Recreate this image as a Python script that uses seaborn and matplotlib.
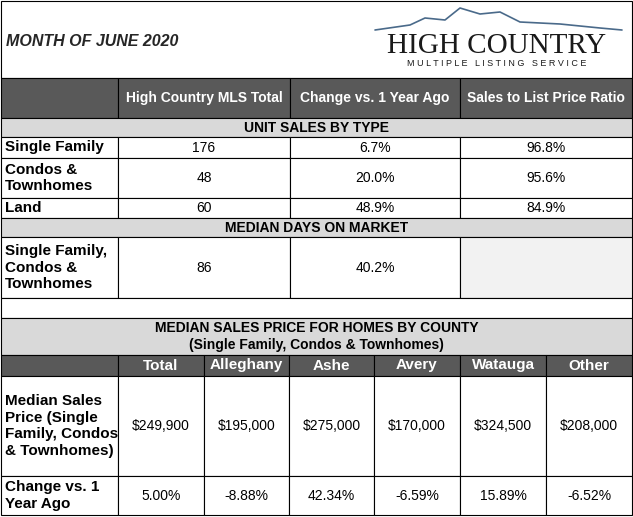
import matplotlib.pyplot as plt
import seaborn as sns
from matplotlib.patches import Rectangle

sns.set_style("white")
plt.rcParams["font.family"] = "Liberation Sans"

# ---- data ----
header_cols = ["High Country MLS Total", "Change vs. 1 Year Ago", "Sales to List Price Ratio"]
type_labels = ["Single Family", "Condos &\nTownhomes", "Land"]
type_totals = ["176", "48", "60"]
type_change = ["6.7%", "20.0%", "48.9%"]
type_ratio = ["96.8%", "95.6%", "84.9%"]
dom_label = "Single Family,\nCondos &\nTownhomes"
dom_total = "86"
dom_change = "40.2%"
counties = ["Total", "Alleghany", "Ashe", "Avery", "Watauga", "Other"]
county_price = ["$249,900", "$195,000", "$275,000", "$170,000", "$324,500", "$208,000"]
county_change = ["5.00%", "-8.88%", "42.34%", "-6.59%", "15.89%", "-6.52%"]

DARK, LIGHT, PALE = "#595959", "#d9d9d9", "#f2f2f2"

fig = plt.figure(figsize=(6.33, 5.17), dpi=100)
ax = fig.add_axes([0, 0, 1, 1])
ax.set_xlim(0, 633)
ax.set_ylim(517, 0)
ax.axis("off")


def cell(x0, x1, y0, y1, text="", color="white", tc="black", bold=False,
         ha="center", size=10):
    ax.add_patch(Rectangle((x0, y0), x1 - x0, y1 - y0, facecolor=color,
                           edgecolor="black", lw=0.8))
    if text:
        tx = (x0 + x1) / 2 if ha == "center" else x0 + 4
        ax.text(tx, (y0 + y1) / 2, text, ha=ha, va="center", color=tc,
                fontsize=size, fontweight="bold" if bold else "normal",
                linespacing=1.25)


# title + logo
ax.add_patch(Rectangle((1, 1), 631, 77, facecolor="white", edgecolor="black", lw=0.8))
ax.text(6, 42, "MONTH OF JUNE 2020", fontsize=11.5, fontweight="bold",
        fontstyle="italic", va="center")
ax.plot([375, 410, 425, 445, 460, 480, 500, 520, 560, 600, 622],
        [30, 25, 18, 20, 8, 14, 12, 22, 24, 28, 30], color="#4a6a8a", lw=1.2)
ax.text(497, 46, "HIGH COUNTRY", fontsize=21, family="Liberation Serif",
        ha="center", va="center", color="#1a1a1a")
ax.text(497, 64, "M U L T I P L E   L I S T I N G   S E R V I C E", fontsize=6.5,
        ha="center", va="center", color="#1a1a1a")

c = [1, 118, 290, 460, 632]
cell(c[0], c[1], 78, 118, color=DARK)
for i, h in enumerate(header_cols):
    cell(c[i + 1], c[i + 2], 78, 118, h, DARK, "white", True)

cell(c[0], c[4], 118, 137, "UNIT SALES BY TYPE", LIGHT, bold=True)
rows = [(137, 158), (158, 198), (198, 218)]
for (y0, y1), lab, t, ch, r in zip(rows, type_labels, type_totals, type_change, type_ratio):
    cell(c[0], c[1], y0, y1, lab, bold=True, ha="left", size=11)
    cell(c[1], c[2], y0, y1, t)
    cell(c[2], c[3], y0, y1, ch)
    cell(c[3], c[4], y0, y1, r)

cell(c[0], c[4], 218, 237, "MEDIAN DAYS ON MARKET", LIGHT, bold=True)
cell(c[0], c[1], 237, 298, dom_label, bold=True, ha="left", size=11)
cell(c[1], c[2], 237, 298, dom_total)
cell(c[2], c[3], 237, 298, dom_change)
cell(c[3], c[4], 237, 298, color=PALE)

cell(c[0], c[4], 298, 318)
cell(c[0], c[4], 318, 355, "MEDIAN SALES PRICE FOR HOMES BY COUNTY\n(Single Family, Condos & Townhomes)",
     LIGHT, bold=True)

k = [1, 118, 204, 289, 374, 460, 546, 632]
cell(k[0], k[1], 355, 376, color=DARK)
for i, name in enumerate(counties):
    cell(k[i + 1], k[i + 2], 355, 376, name, DARK, "white", True, size=11)

cell(k[0], k[1], 376, 476, "Median Sales\nPrice (Single\nFamily, Condos\n& Townhomes)",
     bold=True, ha="left", size=11)
cell(k[0], k[1], 476, 515, "Change vs. 1\nYear Ago", bold=True, ha="left", size=11)
for i in range(len(counties)):
    cell(k[i + 1], k[i + 2], 376, 476, county_price[i])
    cell(k[i + 1], k[i + 2], 476, 515, county_change[i])

fig.savefig("out.png", dpi=100)
